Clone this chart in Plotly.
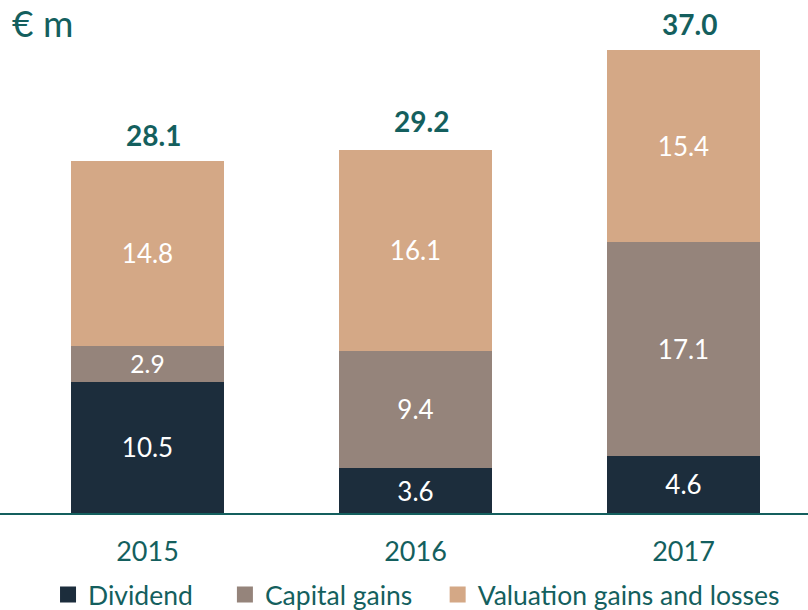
import plotly.graph_objects as go

years = ["2015", "2016", "2017"]
dividend = [10.5, 3.6, 4.6]
capital_gains = [2.9, 9.4, 17.1]
valuation = [14.8, 16.1, 15.4]
totals = [28.1, 29.2, 37.0]
series_names = ["Dividend", "Capital gains", "Valuation gains and losses"]

TEAL = "#145f5e"
FONT = "Lato"
colors = ["#1c2d3c", "#95847b", "#d4a886"]
legend_pad = ["&nbsp;" * 4, "&nbsp;" * 3, ""]

xpos = list(range(len(years)))
fig = go.Figure()
for name, vals, col, pad in zip(series_names, [dividend, capital_gains, valuation], colors, legend_pad):
    fig.add_trace(go.Bar(
        x=xpos, y=vals, name=name, marker=dict(color=col, line=dict(width=0)),
        width=0.571, text=[f"{v:.1f}" for v in vals], textposition="inside",
        insidetextanchor="middle", textangle=0,
        textfont=dict(color="white", size=26, family=FONT),
        showlegend=False, hoverinfo="skip"))
    fig.add_trace(go.Scatter(
        x=[None], y=[None], mode="markers", name=name + pad,
        marker=dict(symbol="square", size=16, color=col)))

for i, t in enumerate(totals):
    fig.add_annotation(x=xpos[i], y=t, text=f"<b>{t:.1f}</b>", showarrow=False,
                       yanchor="bottom", yshift=8, xshift=6,
                       font=dict(color=TEAL, size=28, family=FONT))

fig.add_annotation(xref="paper", yref="paper", x=0.012, y=1.0, xanchor="left", yanchor="middle",
                   yshift=-22, text="€ m", showarrow=False,
                   font=dict(color=TEAL, size=37, family=FONT))

fig.update_layout(
    barmode="stack", width=808, height=610,
    margin=dict(l=0, r=0, t=0, b=97),
    plot_bgcolor="white", paper_bgcolor="white",
    font=dict(family=FONT, color=TEAL),
    legend=dict(orientation="h", xref="container", yref="container",
                x=0.5155, y=0.025, xanchor="center", yanchor="middle",
                font=dict(size=26.5, color=TEAL, family=FONT),
                itemwidth=30, tracegroupgap=0, traceorder="normal"),
    xaxis=dict(range=[-0.5504, 2.4646], tickvals=xpos, ticktext=years,
               showgrid=False, zeroline=False, showline=True, linecolor=TEAL, linewidth=1.5,
               ticks="", tickfont=dict(size=27, color=TEAL, family=FONT),
               ticklabelstandoff=14),
    yaxis=dict(range=[0, 41.07], visible=False, showgrid=False, zeroline=False),
)

fig.write_html("out.html", config={"displayModeBar": False},
               post_script="document.body.style.margin='0';")
